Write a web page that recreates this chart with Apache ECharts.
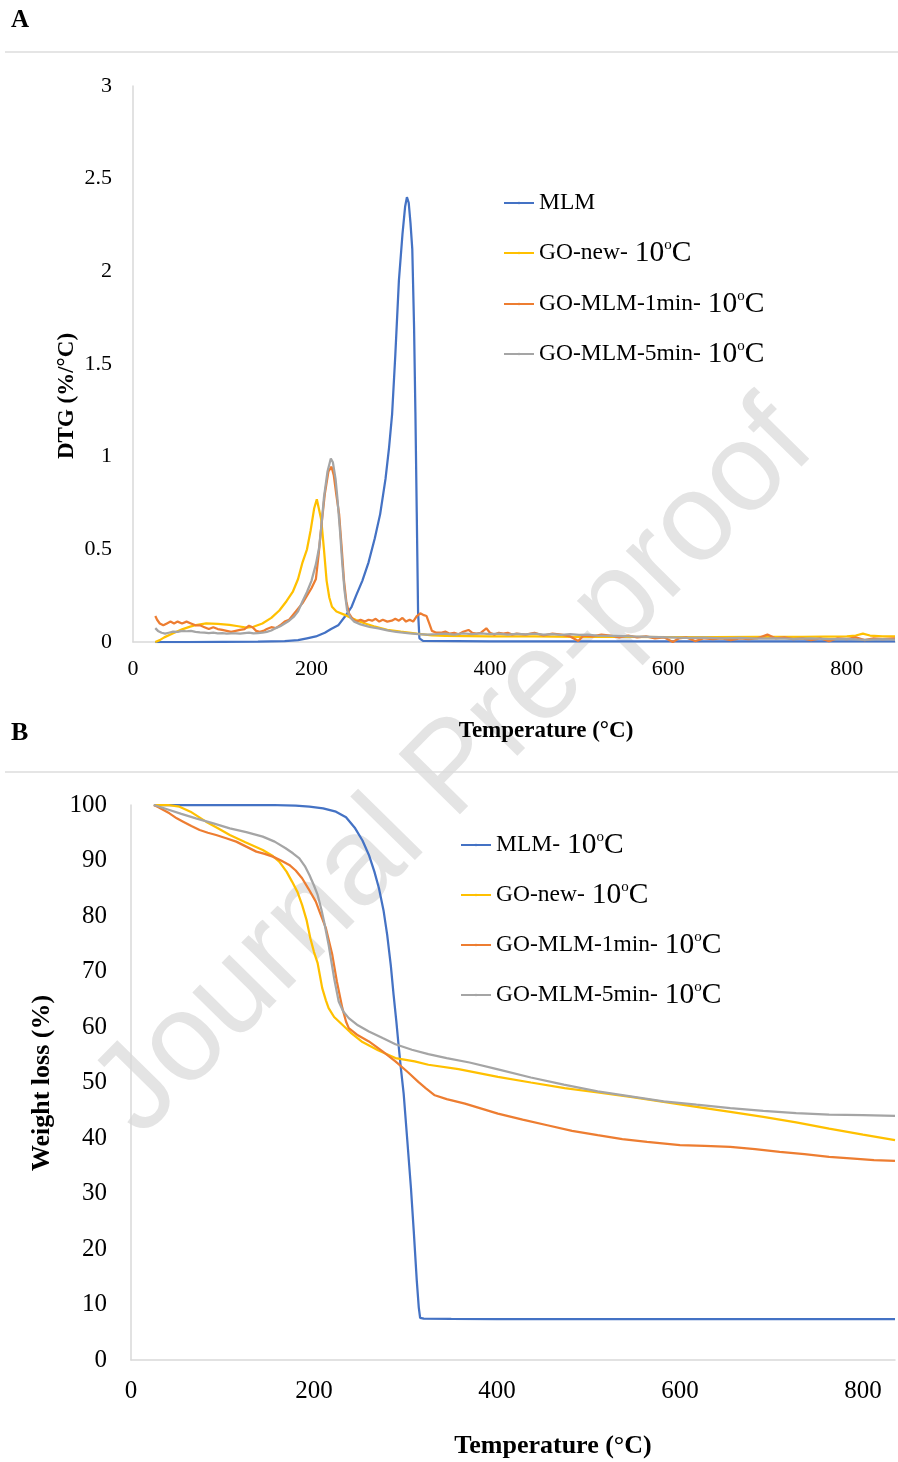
<!DOCTYPE html>
<html><head><meta charset="utf-8">
<script src="https://cdn.jsdelivr.net/npm/echarts@6/dist/echarts.min.js"></script>
<style>html,body{margin:0;padding:0;background:#fff}#c{width:898px;height:1462px}</style>
</head><body><div id="c"></div>
<script>
// ---------- Panel A: DTG (%/°C) vs Temperature ----------
const namesA = ['MLM', 'GO-new-10oC', 'GO-MLM-1min-10oC', 'GO-MLM-5min-10oC'];
const dtgMLM = [[25,0],[60,0],[100,0.001],[140,0.002],[170,0.005],[185,0.01],[195,0.02],[205,0.03],[215,0.05],[222,0.07],[230,0.09],[238,0.14],[245,0.19],[250,0.25],[257,0.33],[264,0.43],[271,0.56],[277,0.69],[283,0.88],[287,1.05],[290.4,1.23],[294,1.55],[298,1.95],[302,2.2],[305,2.35],[307,2.40],[309,2.37],[311,2.26],[313,2.12],[315,1.7],[316.5,1.24],[318,0.7],[319.5,0.16],[321,0.02],[325,0.006],[400,0.004],[600,0.003],[854,0.003]];
const dtgGOnew = [[25,0],[30,0.01],[35,0.025],[45,0.047],[55,0.068],[64,0.083],[72,0.093],[82,0.1],[95,0.098],[108,0.092],[118,0.085],[127,0.078],[135,0.082],[145,0.1],[155,0.13],[164,0.17],[172,0.22],[179,0.27],[185,0.34],[190,0.43],[195,0.5],[199,0.6],[203,0.72],[206,0.77],[208,0.76],[211,0.66],[214,0.5],[217,0.33],[220,0.24],[223,0.19],[228,0.165],[238,0.145],[250,0.118],[260,0.1],[270,0.085],[285,0.066],[300,0.056],[318,0.045],[335,0.036],[350,0.033],[375,0.032],[400,0.03],[450,0.03],[500,0.028],[550,0.027],[600,0.026],[650,0.026],[700,0.027],[750,0.028],[800,0.03],[810,0.035],[818,0.045],[826,0.035],[840,0.03],[854,0.03]];
const dtgGO1min = [[25,0.14],[27,0.12],[30,0.1],[34,0.09],[38,0.1],[42,0.11],[46,0.1],[50,0.11],[55,0.1],[60,0.11],[65,0.1],[70,0.09],[75,0.09],[80,0.08],[85,0.07],[90,0.08],[95,0.07],[100,0.065],[105,0.06],[110,0.055],[115,0.06],[120,0.065],[125,0.07],[130,0.088],[134,0.08],[138,0.06],[142,0.055],[146,0.06],[150,0.07],[155,0.08],[160,0.075],[165,0.09],[170,0.11],[175,0.12],[180,0.15],[185,0.18],[190,0.21],[195,0.25],[200,0.29],[205,0.34],[208,0.47],[211,0.62],[215,0.8],[219,0.92],[222.5,0.946],[225,0.9],[228,0.79],[231,0.69],[234,0.5],[236.5,0.33],[239,0.22],[242,0.155],[246,0.125],[250,0.11],[255,0.12],[260,0.11],[264,0.12],[268,0.115],[272,0.125],[276,0.11],[280,0.12],[285,0.11],[290,0.115],[294,0.125],[298,0.115],[302,0.13],[306,0.11],[310,0.12],[314,0.11],[318,0.14],[322,0.155],[326,0.145],[329,0.14],[332,0.1],[335,0.06],[340,0.05],[345,0.05],[350,0.056],[355,0.045],[360,0.05],[365,0.042],[370,0.055],[376,0.065],[380,0.05],[385,0.045],[390,0.05],[396,0.074],[400,0.05],[405,0.04],[410,0.05],[415,0.045],[420,0.05],[425,0.04],[430,0.045],[440,0.04],[450,0.05],[460,0.035],[470,0.045],[480,0.04],[490,0.03],[499,0.005],[505,0.035],[515,0.03],[525,0.04],[535,0.035],[545,0.025],[555,0.035],[565,0.025],[575,0.03],[585,0.02],[595,0.025],[605,0.0],[612,0.02],[620,0.025],[630,0.005],[640,0.02],[650,0.015],[660,0.02],[670,0.01],[680,0.02],[690,0.015],[700,0.02],[711,0.04],[720,0.02],[730,0.025],[740,0.015],[750,0.02],[760,0.01],[770,0.02],[780,0.005],[790,0.02],[800,0.015],[810,0.025],[820,0.01],[830,0.02],[840,0.015],[854,0.02]];
const dtgGO5min = [[25,0.075],[28,0.06],[32,0.05],[36,0.045],[40,0.05],[45,0.056],[50,0.055],[55,0.06],[60,0.058],[65,0.06],[70,0.055],[75,0.052],[80,0.05],[85,0.048],[90,0.05],[95,0.047],[100,0.048],[105,0.045],[110,0.047],[115,0.046],[120,0.045],[125,0.048],[130,0.05],[135,0.046],[140,0.048],[145,0.05],[150,0.055],[155,0.062],[160,0.075],[165,0.085],[170,0.1],[175,0.115],[180,0.135],[185,0.165],[190,0.22],[195,0.27],[200,0.33],[205,0.42],[208.6,0.51],[211,0.62],[214,0.78],[218,0.92],[221.7,0.99],[224,0.97],[227,0.88],[229,0.78],[232,0.6],[234.6,0.42],[237,0.28],[240,0.17],[244,0.13],[248,0.11],[255,0.095],[260,0.088],[265,0.082],[270,0.077],[275,0.073],[280,0.068],[285,0.063],[290,0.058],[295,0.055],[300,0.052],[310,0.047],[320,0.043],[330,0.04],[340,0.042],[350,0.045],[360,0.04],[370,0.046],[380,0.043],[390,0.047],[400,0.042],[410,0.045],[420,0.04],[430,0.044],[440,0.041],[450,0.045],[460,0.04],[470,0.043],[480,0.039],[490,0.042],[500,0.038],[510,0.04],[520,0.035],[540,0.033],[560,0.03],[580,0.028],[600,0.025],[620,0.022],[640,0.024],[660,0.02],[680,0.022],[700,0.018],[720,0.02],[740,0.017],[760,0.019],[780,0.015],[800,0.017],[820,0.012],[840,0.015],[854,0.013]];

// ---------- Panel B: Weight loss (%) vs Temperature ----------
const namesB = ['MLM-10oC', 'GO-new-10oC', 'GO-MLM-1min-10oC', 'GO-MLM-5min-10oC'];
const tgMLM = [[25,100],[100,100],[150,100],[180,99.9],[195,99.7],[210,99.4],[224,98.8],[235,97.8],[245,95.8],[253,93.6],[260,91],[266,88],[271,85],[276,81],[280,76.6],[284,71],[287,65.8],[290,61],[292.4,56.8],[295,52.5],[298,48],[302,39.5],[306,30.9],[309,23.3],[312.3,14.4],[314.5,9.5],[316,7.6],[320,7.45],[350,7.4],[400,7.35],[500,7.35],[600,7.35],[700,7.35],[835,7.35]];
const tgGOnew = [[25,100],[40,100],[53,99.7],[65,98.8],[82,97],[95,95.8],[108,94.6],[125,93.3],[144,91.9],[155,90.8],[162,89.8],[170,88],[176,86.2],[182,84.3],[187,82],[192,79.2],[196,76],[200,73.5],[204,71.5],[209,67],[213,64.8],[216,63.4],[222,61.8],[231,60.4],[240,59],[252,57.4],[270,55.8],[289,54.4],[310,53.8],[325,53.2],[358,52.4],[401,51],[437,50],[474,49],[510,48.2],[546,47.4],[582,46.5],[618,45.6],[655,44.7],[691,43.8],[727,42.8],[763,41.7],[800,40.6],[835,39.6]];
const tgGO1min = [[25,100],[30,99.6],[42,98.5],[50,97.6],[57,97],[66,96.2],[75,95.5],[84,95],[93,94.6],[104,94],[115,93.4],[126,92.5],[137,91.6],[146,91.2],[155,90.7],[164,90],[173,89.2],[180,88.2],[187,86.8],[194,84.9],[202,82.6],[207,80.4],[213,77.8],[220,73],[225,68.2],[231,63.4],[235,61],[238,59.8],[248,58.5],[260,57.4],[275,55.6],[289,53.8],[303,51.8],[314,50.1],[322,49],[332,47.7],[345,47],[365,46.2],[383,45.3],[401,44.4],[428,43.3],[455,42.3],[482,41.3],[510,40.5],[537,39.8],[564,39.3],[600,38.7],[627,38.6],[655,38.4],[682,38],[709,37.5],[736,37.1],[763,36.6],[790,36.3],[812,36],[835,35.9]];
const tgGO5min = [[25,100],[42,99.1],[55,98.4],[71,97.6],[90,96.7],[108,95.8],[126,95.1],[144,94.3],[157,93.4],[169,92.2],[177,91.3],[184,90.4],[190,89],[195,87.4],[200,85.5],[204,83.8],[208,81.2],[211,79],[216,74.8],[219,71.8],[222,68.8],[227,64.6],[232,62.8],[238,61.6],[248,60.3],[260,59.2],[275,58],[289,56.9],[307,55.9],[325,55.1],[345,54.4],[370,53.6],[400,52.4],[437,50.9],[473,49.6],[510,48.4],[546,47.5],[582,46.6],[618,46],[655,45.4],[691,44.9],[727,44.5],[763,44.2],[800,44.1],[835,44]];

const colors = ['#4472C4', '#FFC000', '#ED7D31', '#A5A5A5'];
const SERIF = "'Liberation Serif','Times New Roman',serif";

const chart = echarts.init(document.getElementById('c'), null, {renderer: 'canvas'});

function legendFmt(name) {
  if (!/10oC$/.test(name)) return '{p|' + name + '}';
  const prefix = name.slice(0, name.length - 4);
  return '{p|' + prefix + '}{g|\u2002}{n|10}{s|o}{n|C}';
}
const richLegend = {
  p: {fontFamily: SERIF, fontSize: 23.5, color: '#000', lineHeight: 30},
  g: {fontFamily: SERIF, fontSize: 14, color: '#000', lineHeight: 30},
  n: {fontFamily: SERIF, fontSize: 29.5, color: '#000', lineHeight: 30},
  s: {fontFamily: SERIF, fontSize: 15, color: '#000', verticalAlign: 'top', lineHeight: 25}
};

const axisLineStyle = {show: true, lineStyle: {color: '#d9d9d9', width: 1.5}};

function mkSeries(name, data, ci, idx) {
  return {
    name: name, type: 'line', data: data, xAxisIndex: idx, yAxisIndex: idx,
    symbol: 'none', smooth: false, clip: true,
    lineStyle: {color: colors[ci], width: 2.25},
    itemStyle: {color: colors[ci]}, z: 3 + ci
  };
}
function mkLegend(name, left, top) {
  return {data: [name], left: left, top: top, itemWidth: 30, itemHeight: 3, padding: 0,
    selectedMode: false, formatter: legendFmt, textStyle: {rich: richLegend, fontFamily: SERIF}};
}

const option = {
  animation: false,
  backgroundColor: '#fff',
  grid: [
    {left: 133, top: 86, width: 765, height: 556},
    {left: 131, top: 805, width: 767, height: 555}
  ],
  xAxis: [
    {gridIndex: 0, type: 'value', min: 0, max: 854, interval: 200,
     axisLine: axisLineStyle, axisTick: {show: false}, splitLine: {show: false},
     axisLabel: {fontFamily: SERIF, fontSize: 22, color: '#000', margin: 16,
       formatter: v => (v % 200 === 0 ? String(v) : '')}},
    {gridIndex: 1, type: 'value', min: 0, max: 835, interval: 200,
     axisLine: axisLineStyle, axisTick: {show: false}, splitLine: {show: false},
     axisLabel: {fontFamily: SERIF, fontSize: 25, color: '#000', margin: 19,
       formatter: v => (v % 200 === 0 ? String(v) : '')}}
  ],
  yAxis: [
    {gridIndex: 0, type: 'value', min: 0, max: 3, interval: 0.5,
     axisLine: axisLineStyle, axisTick: {show: false}, splitLine: {show: false},
     axisLabel: {fontFamily: SERIF, fontSize: 22, color: '#000', margin: 21}},
    {gridIndex: 1, type: 'value', min: 0, max: 100, interval: 10,
     axisLine: axisLineStyle, axisTick: {show: false}, splitLine: {show: false},
     axisLabel: {fontFamily: SERIF, fontSize: 25, color: '#000', margin: 24}}
  ],
  legend: [
    mkLegend(namesA[0], 503, 191),
    mkLegend(namesA[1], 503, 238),
    mkLegend(namesA[2], 503, 289),
    mkLegend(namesA[3], 503, 339),
    mkLegend(namesB[0], 460, 830),
    mkLegend(namesB[1], 460, 880),
    mkLegend(namesB[2], 460, 930),
    mkLegend(namesB[3], 460, 980)
  ],
  graphic: [
    {type: 'text', z: 0, x: 455, y: 770, rotation: Math.PI * 45.5 / 180, silent: true,
     style: {text: 'Journal Pre-proof', fill: '#e4e4e4', font: "125px 'Liberation Sans', Arial, sans-serif",
       textAlign: 'center', textVerticalAlign: 'middle'}},
    {type: 'line', z: 1, shape: {x1: 5, y1: 52, x2: 898, y2: 52}, style: {stroke: '#dcdcdc', lineWidth: 1.5}},
    {type: 'line', z: 1, shape: {x1: 5, y1: 772, x2: 898, y2: 772}, style: {stroke: '#dcdcdc', lineWidth: 1.5}},
    {type: 'text', z: 10, x: 11, y: 21, style: {text: 'A', fill: '#000', font: "bold 25px " + SERIF, textVerticalAlign: 'middle'}},
    {type: 'text', z: 10, x: 11, y: 733, style: {text: 'B', fill: '#000', font: "bold 26px " + SERIF, textVerticalAlign: 'middle'}},
    {type: 'text', z: 10, x: 546, y: 731, style: {text: 'Temperature (°C)', fill: '#000', font: "bold 23px " + SERIF, textAlign: 'center', textVerticalAlign: 'middle'}},
    {type: 'text', z: 10, x: 553, y: 1446, style: {text: 'Temperature (°C)', fill: '#000', font: "bold 26px " + SERIF, textAlign: 'center', textVerticalAlign: 'middle'}},
    {type: 'text', z: 10, x: 67, y: 396, rotation: Math.PI / 2, style: {text: 'DTG (%/°C)', fill: '#000', font: "bold 23px " + SERIF, textAlign: 'center', textVerticalAlign: 'middle'}},
    {type: 'text', z: 10, x: 42, y: 1083, rotation: Math.PI / 2, style: {text: 'Weight loss (%)', fill: '#000', font: "bold 26px " + SERIF, textAlign: 'center', textVerticalAlign: 'middle'}}
  ],
  series: [
    mkSeries(namesA[0], dtgMLM, 0, 0),
    mkSeries(namesA[1], dtgGOnew, 1, 0),
    mkSeries(namesA[2], dtgGO1min, 2, 0),
    mkSeries(namesA[3], dtgGO5min, 3, 0),
    mkSeries(namesB[0], tgMLM, 0, 1),
    mkSeries(namesB[1], tgGOnew, 1, 1),
    mkSeries(namesB[2], tgGO1min, 2, 1),
    mkSeries(namesB[3], tgGO5min, 3, 1)
  ]
};
chart.setOption(option);
</script></body></html>
